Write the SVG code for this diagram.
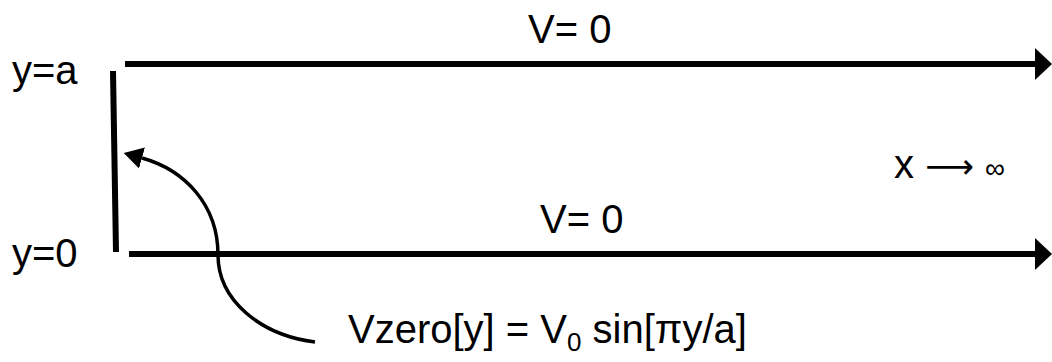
<svg xmlns="http://www.w3.org/2000/svg" width="1052" height="362" viewBox="0 0 1052 362">
<style>
text{font-family:"Liberation Sans",Arial,sans-serif;font-size:40px;fill:#000}
.plate{stroke:#000;stroke-width:6;fill:none}
.curve{stroke:#000;stroke-width:3.5;fill:none}
</style>
<defs>
<marker id="bigHead" markerUnits="userSpaceOnUse" markerWidth="20" markerHeight="32" refX="0" refY="16" orient="auto" viewBox="0 0 20 32">
<path d="M0,0 L17,16 L0,32 Z" fill="#000"/>
</marker>
<marker id="curveHead" markerUnits="userSpaceOnUse" markerWidth="20" markerHeight="24" refX="0" refY="12" orient="auto" viewBox="0 0 20 24">
<path d="M0,1 L19,12 L0,23 Z" fill="#000"/>
</marker>
</defs>
<rect width="1052" height="362" fill="#fff"/>
<g id="connectors">
<path id="top-plate" class="plate" d="M125,64 L1035,64" marker-end="url(#bigHead)"/>
<path id="bottom-plate" class="plate" d="M129,254 L1035,254" marker-end="url(#bigHead)"/>
<path id="left-plate" class="plate" d="M113,71 L116,252"/>
<path id="bc-arrow" class="curve" d="M315,342 C260,335 218,300 218,255 C218,205 185,170 142,158" marker-end="url(#curveHead)"/>
</g>
<g id="label-ya"><text x="12" y="84">y=a</text></g>
<g id="label-y0"><text x="12" y="267">y=0</text></g>
<g id="label-top-v"><text x="528" y="43">V= 0</text></g>
<g id="label-bottom-v"><text x="540" y="233">V= 0</text></g>
<g id="label-xinf"><text x="894" y="178">x <tspan font-family="DejaVu Sans" font-size="34">⟶</tspan> <tspan font-size="28">∞</tspan></text></g>
<g id="label-formula"><text x="348" y="343">Vzero[y] = V<tspan font-size="26" dy="8">0</tspan><tspan dy="-8"> sin[πy/a]</tspan></text></g>
</svg>
